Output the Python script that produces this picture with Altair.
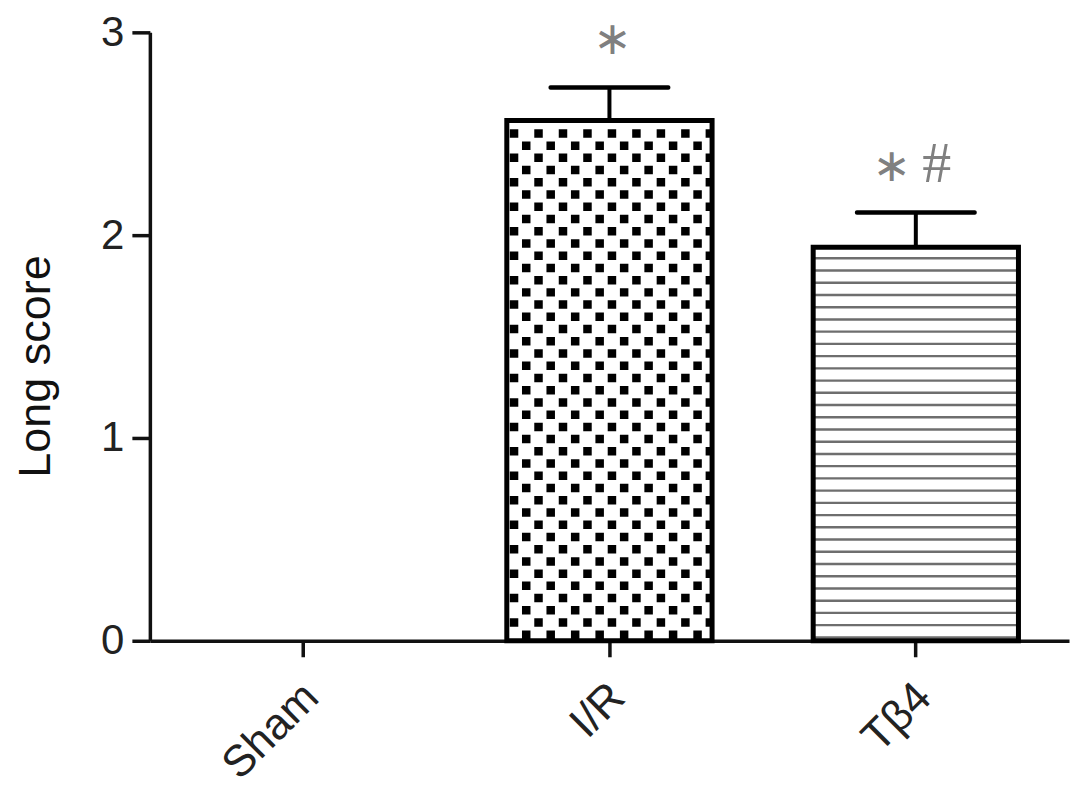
import altair as alt
import pandas as pd

# ---------------- data ----------------
groups = ["Sham", "I/R", "Tβ4"]
means = [0.0, 2.565, 1.94]
sems = [0.0, 0.163, 0.172]
sig_star = ["", "∗", "∗"]
sig_hash = ["", "", "#"]
y_ticks = [0, 1, 2, 3]

# ---------------- layout / style ----------------
W, H = 920, 609
Y_MAX = 3
PAD_IN, PAD_OUT = 0.33, 0.165
PX = Y_MAX / H                      # data units per vertical pixel
pattern_of = {"I/R": "checker", "Tβ4": "lines"}
ROW_STEP = 12.24 * PX               # hatch spacing
AX = "#111111"
LABEL_FONT = "Liberation Sans"
SIG_GRAY = "#808080"

df = pd.DataFrame({"group": groups, "mean": means, "sem": sems,
                   "star": sig_star, "hash": sig_hash})
df["top"] = df["mean"] + df["sem"]

# pattern rows derived from the bar values
rows = []
for i, (g, m) in enumerate(zip(groups, means)):
    kind = pattern_of.get(g)
    if kind is None:
        continue
    lo, hi = i + PAD_OUT, i + 1 - PAD_OUT
    first = (6.0 if kind == "checker" else 3.4) * PX
    k = 0
    while True:
        yv = first + k * ROW_STEP
        if yv > m - 6 * PX:
            break
        rows.append({"x": lo, "x2": hi, "mean": yv, "kind": kind, "parity": k % 2})
        k += 1
pat = pd.DataFrame(rows)

y_axis = alt.Axis(values=y_ticks, format="d", grid=False,
                  domainColor=AX, domainWidth=3.5, tickColor=AX, tickWidth=3.5, tickSize=18,
                  labelFont=LABEL_FONT, labelFontSize=42, labelColor="#222", labelPadding=8,
                  titleFont=LABEL_FONT, titleFontSize=45, titleFontWeight="normal", titleColor="#111",
                  titleX=-100, titleY=334, titleBaseline="alphabetic", titleAlign="center")
y_scale = alt.Scale(domain=[0, Y_MAX], nice=False)

def Y(field):
    return alt.Y(field, scale=y_scale, axis=y_axis, title="Long score")

x_band = alt.X("group:N", sort=groups, title=None,
               scale=alt.Scale(domain=groups, paddingInner=PAD_IN, paddingOuter=PAD_OUT),
               axis=alt.Axis(labelAngle=-45, labelAlign="right", labelBaseline="top",
                             labelFont=LABEL_FONT, labelFontSize=44, labelColor="#222",
                             labelPadding=18, labelOffset=-7,
                             domainColor=AX, domainWidth=3.5, tickColor=AX, tickWidth=3.5, tickSize=16))

x_q = alt.X("x:Q", scale=alt.Scale(domain=[0, len(groups)], nice=False, zero=False), axis=None)

base_pat = alt.Chart(pat)
checker_even = base_pat.transform_filter("datum.kind == 'checker' && datum.parity == 0").mark_rule(
    stroke="black", strokeWidth=8.5, strokeDash=[8.5, 16], strokeDashOffset=9.3
).encode(x=x_q, x2="x2:Q", y=Y("mean:Q"))
checker_odd = base_pat.transform_filter("datum.kind == 'checker' && datum.parity == 1").mark_rule(
    stroke="black", strokeWidth=8.5, strokeDash=[8.5, 16], strokeDashOffset=21.5
).encode(x=x_q, x2="x2:Q", y=Y("mean:Q"))
hlines = base_pat.transform_filter("datum.kind == 'lines'").mark_rule(
    stroke="#6e6e6e", strokeWidth=2.4
).encode(x=x_q, x2="x2:Q", y=Y("mean:Q"))
patterns = alt.layer(checker_even, checker_odd, hlines)

base = alt.Chart(df)
bars = base.transform_filter("datum.mean > 0").mark_bar(
    fillOpacity=0, stroke="black", strokeWidth=5
).encode(x=x_band, y=Y("mean:Q"))
stem = base.transform_filter("datum.sem > 0").mark_rule(
    stroke="black", strokeWidth=4
).encode(x=x_band, y=Y("mean:Q"), y2="top:Q")
cap = base.transform_filter("datum.sem > 0").mark_tick(
    orient="horizontal", size=122, thickness=4.5, color="black", cornerRadius=2, opacity=1
).encode(x=x_band, y=Y("top:Q"))
star_solo = base.transform_filter("datum.star != '' && datum.hash == ''").mark_text(
    font="DejaVu Sans", fontSize=46, color=SIG_GRAY, baseline="middle", dy=-48, dx=3
).encode(x=x_band, y=Y("top:Q"), text="star:N")
star_pair = base.transform_filter("datum.star != '' && datum.hash != ''").mark_text(
    font="DejaVu Sans", fontSize=46, color=SIG_GRAY, baseline="middle", dy=-45, dx=-24
).encode(x=x_band, y=Y("top:Q"), text="star:N")
hash_txt = base.transform_filter("datum.hash != ''").mark_text(
    font="Liberation Serif", fontSize=58, color=SIG_GRAY, baseline="middle", dy=-47, dx=21
).encode(x=x_band, y=Y("top:Q"), text="hash:N")
main = alt.layer(bars, stem, cap, star_solo, star_pair, hash_txt)

chart = alt.layer(patterns, main).resolve_scale(x="independent").properties(
    width=W, height=H,
    padding={"left": 142, "top": 24, "right": 10, "bottom": 145},
    autosize=alt.AutoSizeParams(type="none"),
).configure_view(stroke=None)

chart.save("out.html", embed_options={"renderer": "svg", "actions": False})
